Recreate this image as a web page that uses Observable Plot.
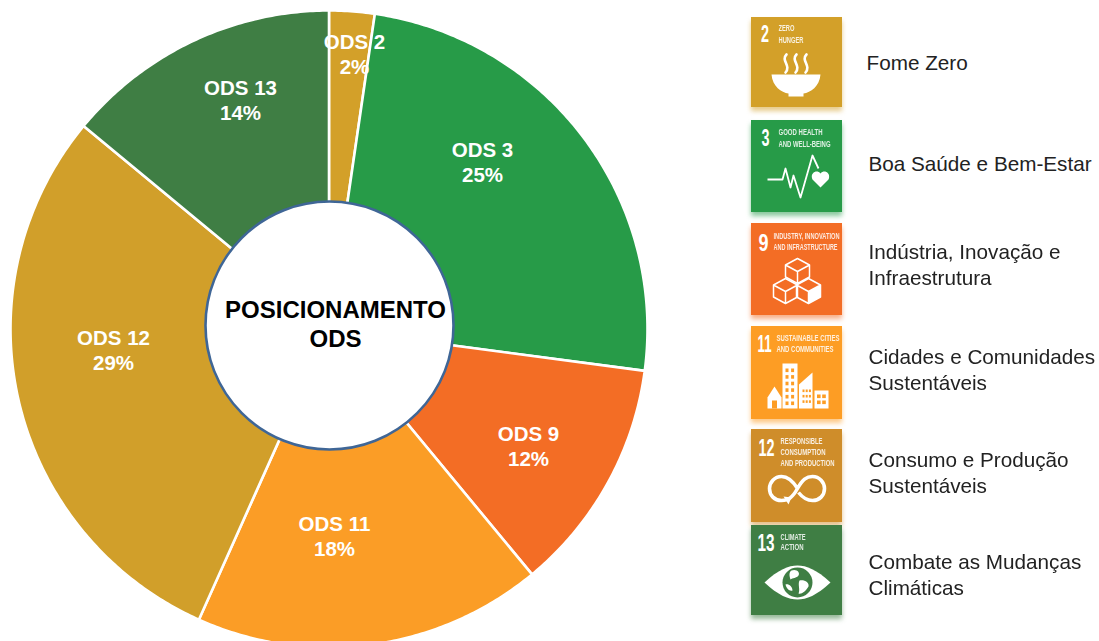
<!DOCTYPE html>
<html lang="pt">
<head>
<meta charset="utf-8">
<script src="https://cdn.jsdelivr.net/npm/d3@7"></script>
<script src="https://cdn.jsdelivr.net/npm/@observablehq/plot@0.6"></script>
<style>
html,body{margin:0;padding:0;background:#fff;overflow:hidden}
svg{display:block}
</style>
</head>
<body>
<div id="chart"></div>
<script>
// ---- data ----
const categories = ["ODS 2", "ODS 3", "ODS 9", "ODS 11", "ODS 12", "ODS 13"];
const shares = [2.3, 24.8, 11.9, 17.7, 29.3, 14.0];
const percentLabels = ["2%", "25%", "12%", "18%", "29%", "14%"];
const sliceColors = ["#D3A029", "#279B48", "#F36D25", "#FB9D26", "#D19F2A", "#3F7E44"];
const tileColors = ["#D3A029", "#279B48", "#F36D25", "#FD9D24", "#CF8D2A", "#3F7E44"];
const tileNumbers = ["2", "3", "9", "11", "12", "13"];
const tileCaptions = [
  ["ZERO", "HUNGER"],
  ["GOOD HEALTH", "AND WELL-BEING"],
  ["INDUSTRY, INNOVATION", "AND INFRASTRUCTURE"],
  ["SUSTAINABLE CITIES", "AND COMMUNITIES"],
  ["RESPONSIBLE", "CONSUMPTION", "AND PRODUCTION"],
  ["CLIMATE", "ACTION"]
];
const legendLabels = [
  ["Fome Zero"],
  ["Boa Saúde e Bem-Estar"],
  ["Indústria, Inovação e", "Infraestrutura"],
  ["Cidades e Comunidades", "Sustentáveis"],
  ["Consumo e Produção", "Sustentáveis"],
  ["Combate as Mudanças", "Climáticas"]
];
const centerTitle = ["POSICIONAMENTO", "ODS"];

// ---- layout ----
const W = 1099, H = 641;
const pie = {cx: 328.5, cy: 328.5, r: 318.5};
const hole = {cx: 329, cy: 325, r: 124};
const sliceLabelAt = [[354, 42], [482, 150], [528, 434], [334, 524], [113, 338], [240, 88]];
const tileBoxes = [[751, 17, 842, 107], [751, 120, 842, 212], [751, 223, 842, 315], [751, 326, 842, 419], [751, 429, 842, 522], [751, 525, 842, 615]];
const numberAt = [[764.5, 33.5], [765, 138], [763, 242.5], [764, 344], [766, 447.5], [765.5, 543]];
const numberWidths = [8, 8, 10, 14, 16, 17];
const captionAt = [[778, 28, 12], [778, 132, 12], [773, 236, 11], [776, 338, 11], [780, 441, 11], [780, 537, 10]];
const captionWidths = [[16, 25], [44, 52], [66, 64], [63, 57], [42, 45, 54], [25, 23]];
const legendAt = [[866, 63], [868, 164], [868, 252], [868, 357], [868, 460], [868, 562]];
const legendLeading = 26;

// ---- pie geometry through d3.pie ----
const arcs = d3.pie().sort(null).value(d => d)(shares);
const sliceRows = [];
arcs.forEach((a, i) => {
  const n = Math.max(2, Math.ceil((a.endAngle - a.startAngle) / 0.01));
  sliceRows.push({ods: categories[i], x: pie.cx, y: pie.cy});
  for (let k = 0; k <= n; k++) {
    const t = a.startAngle + (a.endAngle - a.startAngle) * k / n;
    sliceRows.push({ods: categories[i], x: pie.cx + pie.r * Math.sin(t), y: pie.cy - pie.r * Math.cos(t)});
  }
  sliceRows.push({ods: categories[i], x: pie.cx, y: pie.cy});
});

const sliceText = categories.map((c, i) => ({x: sliceLabelAt[i][0], y: sliceLabelAt[i][1], text: c}))
  .concat(percentLabels.map((p, i) => ({x: sliceLabelAt[i][0], y: sliceLabelAt[i][1] + 25, text: p})));

const tiles = tileBoxes.map((b, i) => ({x1: b[0], y1: b[1], x2: b[2], y2: b[3], color: tileColors[i]}));

const captions = tileCaptions.flatMap((lines, i) => lines.map((t, j) => ({
  x: captionAt[i][0], y: captionAt[i][1] + j * captionAt[i][2], text: t, fit: captionWidths[i][j]
})));
const numbers = tileNumbers.map((t, i) => ({x: numberAt[i][0], y: numberAt[i][1], text: t, fit: numberWidths[i]}));
const legendRows = legendLabels.flatMap((lines, i) => lines.map((t, j) => ({
  x: legendAt[i][0], y: legendAt[i][1] + j * legendLeading, text: t
})));

// squeezes each text of a mark to the width it has in the tile
function fitText(index, scales, values, dims, ctx, next) {
  const g = next(index, scales, values, dims, ctx);
  const data = this.data;
  const nodes = g.querySelectorAll("text");
  Array.from(index).forEach((di, k) => {
    if (nodes[k]) {
      nodes[k].setAttribute("textLength", data[di].fit);
      nodes[k].setAttribute("lengthAdjust", "spacingAndGlyphs");
    }
  });
  return g;
}

// ---- pictograms (images, as in the reference) ----
function svgIcon(size, body) {
  const s = `<svg xmlns="http://www.w3.org/2000/svg" width="${size}" height="${size}" viewBox="0 0 ${size} ${size}">${body}</svg>`;
  return "data:image/svg+xml;charset=utf-8," + encodeURIComponent(s);
}
function cube(cx, top, filled) {
  const h = 12, dx = 12, dy = 6.5;
  let s = `<path d="M${cx} ${top}L${cx + dx} ${top + dy}V${top + dy + h}L${cx} ${top + 2 * dy + h}L${cx - dx} ${top + dy + h}V${top + dy}Z M${cx - dx} ${top + dy}L${cx} ${top + 2 * dy}L${cx + dx} ${top + dy} M${cx} ${top + 2 * dy}V${top + 2 * dy + h}" fill="none" stroke="#fff" stroke-width="1.5" stroke-linejoin="round"/>`;
  if (filled) s += `<path d="M${cx} ${top + 2 * dy}L${cx + dx} ${top + dy}V${top + dy + h}L${cx} ${top + 2 * dy + h}Z" fill="#fff"/>`;
  return s;
}
function windows(x0, y0, cols, rows, w, h, gx, gy, color) {
  let s = "";
  for (let r = 0; r < rows; r++) for (let c = 0; c < cols; c++) {
    s += `<rect x="${x0 + c * gx}" y="${y0 + r * gy}" width="${w}" height="${h}" fill="${color}"/>`;
  }
  return s;
}
const iconBowl = `
  <path d="M4 27H53C52 39 43 45 36 46V49H21V46C14 45 5 39 4 27Z" fill="#fff"/>
  <g fill="none" stroke="#fff" stroke-width="2.6" stroke-linecap="round">
    <path d="M19 7C13 13 24 18 18 25"/><path d="M29 7C23 13 34 18 28 25"/><path d="M39 7C33 13 44 18 38 25"/>
  </g>`;
const iconHealth = `
  <path d="M2 36H17L20 25L25 44L28 32L35 54L47 12L53 25" fill="none" stroke="#fff" stroke-width="1.8" stroke-linejoin="round"/>
  <path d="M55 44L47 36C44 30 51 25 55 30C59 25 66 30 63 36Z" fill="#fff"/>`;
const iconCubes = cube(32, 8, false) + cube(20, 28, false) + cube(43, 28, true);
const bg11 = "#FD9D24";
const iconCity = `
  <rect x="17" y="8" width="15" height="45" fill="#fff"/>
  ${windows(20, 13, 2, 6, 3, 3.6, 5.6, 6.6, bg11)}
  <path d="M33.5 53V29L47 17V53Z" fill="#fff"/>
  ${windows(37, 34, 3, 3, 2, 2.6, 3.2, 5.4, bg11)}
  <rect x="49" y="35" width="14" height="18" fill="#fff"/>
  ${windows(51.5, 39, 2, 2, 3.6, 3.6, 5.2, 6, bg11)}
  <path d="M2 42L9 31L16 42V53H2Z" fill="#fff"/>
  <rect x="6.5" y="45" width="5" height="8" fill="${bg11}"/>`;
const iconLoop = `
  <path d="M32 32C27 24 22 20 16 20C9 20 4 26 4 32C4 39 9 44 16 44C23 44 27 41 32 32C37 23 41 20 47 20C54 20 59 26 59 32C59 39 54 44 47 44C41 44 37 41 33 36"
        fill="none" stroke="#fff" stroke-width="3.6"/>
  <path d="M18 40L26 41L23 48Z" fill="#fff"/>`;
const dk = "#3F7E44";
const iconEye = `
  <path d="M1 34C15 21 25 17 34 17C43 17 53 21 67 34C53 47 43 51 34 51C25 51 15 47 1 34Z" fill="#fff"/>
  <circle cx="34" cy="34" r="15" fill="${dk}"/>
  <path d="M28 22C33 20 37 24 35 27C33 30 29 29 27 31C26 28 25 24 28 22ZM36 32C41 31 46 34 45 38C42 43 38 46 35 45C37 41 34 36 36 32ZM22 36C25 35 29 38 29 42C26 43 23 40 22 36Z" fill="#fff"/>`;
const iconBodies = [[56, iconBowl], [64, iconHealth], [64, iconCubes], [64, iconCity], [64, iconLoop], [68, iconEye]];
const iconCenters = [[795, 75], [797, 175], [797, 282], [797, 387], [797, 488], [797, 582]];
const icons = iconBodies.map((d, i) => ({
  x: iconCenters[i][0], y: iconCenters[i][1], size: d[0], src: svgIcon(d[0], d[1])
}));

// ---- plot ----
const sans = "'Liberation Sans', Arial, sans-serif";

const chart = Plot.plot({
  width: W, height: H,
  margin: 0,
  style: {background: "#fff", overflow: "hidden"},
  x: {domain: [0, W], range: [0, W], axis: null},
  y: {domain: [0, H], range: [0, H], axis: null},
  color: {domain: categories, range: sliceColors},
  marks: [
    Plot.line(sliceRows, {x: "x", y: "y", z: "ods", fill: "ods", stroke: "#fff", strokeWidth: 2.6, strokeLinejoin: "round"}),
    Plot.dot([hole], {x: "cx", y: "cy", r: hole.r, fill: "#fff", stroke: "#3F6696", strokeWidth: 2.6}),
    Plot.text(centerTitle, {
      x: () => 335, y: (d, i) => 310 + i * 29, text: d => d,
      fontFamily: sans, fontWeight: 700, fontSize: 24, fill: "#000"
    }),
    Plot.text(sliceText, {
      x: "x", y: "y", text: "text", fontFamily: sans, fontWeight: 700, fontSize: 20.5, fill: "#fff"
    }),
    // soft tinted shadows of the tiles, then the tiles
    Plot.rect(tiles, {x1: "x1", x2: "x2", y1: "y1", y2: "y2", fill: d => d.color, dy: 4, opacity: 0.55, imageFilter: "blur(2.5px)"}),
    Plot.rect(tiles, {x1: "x1", x2: "x2", y1: "y1", y2: "y2", fill: d => d.color}),
    Plot.image(icons, {x: "x", y: "y", src: "src", width: "size", height: "size", imageFilter: "blur(0.35px)"}),
    Plot.text(numbers, {
      x: "x", y: "y", text: "text", fontFamily: sans, fontWeight: 700, fontSize: 23.5, fill: "#fff", render: fitText
    }),
    Plot.text(captions, {
      x: "x", y: "y", text: "text", textAnchor: "start", fontFamily: sans, fontWeight: 700, fontSize: 9, fill: "#fff",
      fillOpacity: 0.85, imageFilter: "blur(0.3px)", render: fitText
    }),
    Plot.text(legendRows, {
      x: "x", y: "y", text: "text", textAnchor: "start", fontFamily: sans, fontSize: 20.7, fill: "#222"
    })
  ]
});
document.getElementById("chart").appendChild(chart);
</script>
</body>
</html>
